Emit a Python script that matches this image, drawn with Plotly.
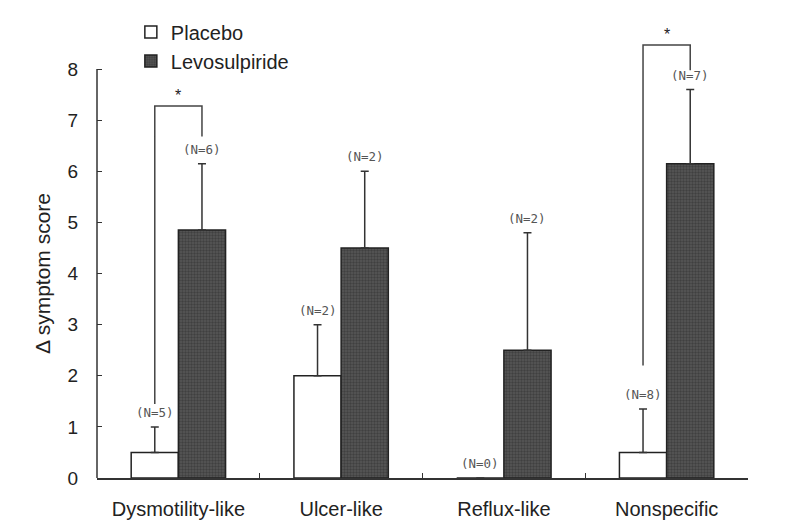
import plotly.graph_objects as go

categories = ["Dysmotility-like", "Ulcer-like", "Reflux-like", "Nonspecific"]
placebo = [0.5, 2.0, 0.0, 0.5]
placebo_err = [0.5, 1.0, 0.0, 0.85]
levo = [4.85, 4.5, 2.5, 6.15]
levo_err = [1.3, 1.5, 2.3, 1.45]
placebo_n = ["(N=5)", "(N=2)", "(N=0)", "(N=8)"]
levo_n = ["(N=6)", "(N=2)", "(N=2)", "(N=7)"]
y_ticks = [0, 1, 2, 3, 4, 5, 6, 7, 8]
# significance brackets: (category index, left foot, top, right foot)
brackets = [(0, 1.45, 7.28, 6.68), (3, 2.2, 8.47, 7.98)]

FONT = "Liberation Sans, Arial, sans-serif"
OFF = 0.145  # half of bar width in category units

fig = go.Figure()
fig.add_trace(go.Bar(
    x=categories, y=placebo, name="Placebo",
    marker=dict(color="white", line=dict(color="#222", width=1.5)),
    error_y=dict(type="data", array=placebo_err, arrayminus=[0]*4,
                 color="#333", thickness=1.5, width=4),
))
fig.add_trace(go.Bar(
    x=categories, y=levo, name="Levosulpiride",
    marker=dict(color="#3e3e3e", line=dict(color="#222", width=1.5),
                pattern=dict(shape=".", fgcolor="#2a2a2a", bgcolor="#575757",
                             size=3, solidity=0.5)),
    error_y=dict(type="data", array=levo_err, arrayminus=[0]*4,
                 color="#333", thickness=1.5, width=4),
))

NFONT = dict(family="DejaVu Sans Mono, monospace", size=12.5, color="#555")
annotations = []
for i in range(4):
    annotations.append(dict(x=i - OFF, y=placebo[i] + placebo_err[i], xref="x", yref="y",
                            text=placebo_n[i], showarrow=False, yanchor="bottom", yshift=5,
                            font=NFONT))
    annotations.append(dict(x=i + OFF, y=levo[i] + levo_err[i], xref="x", yref="y",
                            text=levo_n[i], showarrow=False, yanchor="bottom", yshift=5,
                            font=NFONT))

shapes = [dict(type="line", xref="paper", yref="y", x0=0, x1=0, y0=0, y1=8,
               line=dict(color="#333", width=1.5))]
for ci, yl, yt, yr in brackets:
    shapes.append(dict(type="path", xref="x", yref="y",
                       path=f"M {ci-OFF},{yl} L {ci-OFF},{yt} L {ci+OFF},{yt} L {ci+OFF},{yr}",
                       line=dict(color="#444", width=1.5)))
    annotations.append(dict(x=ci, y=yt, xref="x", yref="y", text="*", showarrow=False,
                            yanchor="bottom", yshift=0,
                            font=dict(family=FONT, size=16, color="#222")))

annotations.append(dict(x=-0.063, y=4, xref="paper", yref="y", text="Δ symptom score",
                        textangle=-90, showarrow=False, xanchor="right",
                        font=dict(family=FONT, size=21, color="#222")))

fig.update_layout(
    width=789, height=528,
    margin=dict(l=97, r=41, t=16, b=50),
    paper_bgcolor="white", plot_bgcolor="white",
    barmode="group", bargap=0.42, bargroupgap=0,
    font=dict(family=FONT, color="#222"),
    showlegend=True,
    legend=dict(x=0.052, y=1.012, xanchor="left", yanchor="top",
                font=dict(family=FONT, size=20, color="#222"),
                bgcolor="rgba(0,0,0,0)", tracegroupgap=0, itemwidth=30),
    annotations=annotations,
    shapes=shapes,
)
fig.update_xaxes(showline=True, linecolor="#333", linewidth=1.5, automargin=False,
                 ticks="inside", ticklen=5, tickcolor="#333", tickson="boundaries",
                 tickfont=dict(family=FONT, size=20, color="#222"),
                 ticklabelstandoff=12, showgrid=False, zeroline=False)
fig.update_yaxes(range=[0, 9], tickvals=y_ticks, showline=False, showgrid=False,
                 automargin=False,
                 zeroline=False, ticks="inside", ticklen=5, tickcolor="#333",
                 tickfont=dict(family=FONT, size=19, color="#222"),
                 ticklabelstandoff=18)

fig.write_html("out.html", config={"displayModeBar": False},
               post_script="document.body.style.margin='0';")
